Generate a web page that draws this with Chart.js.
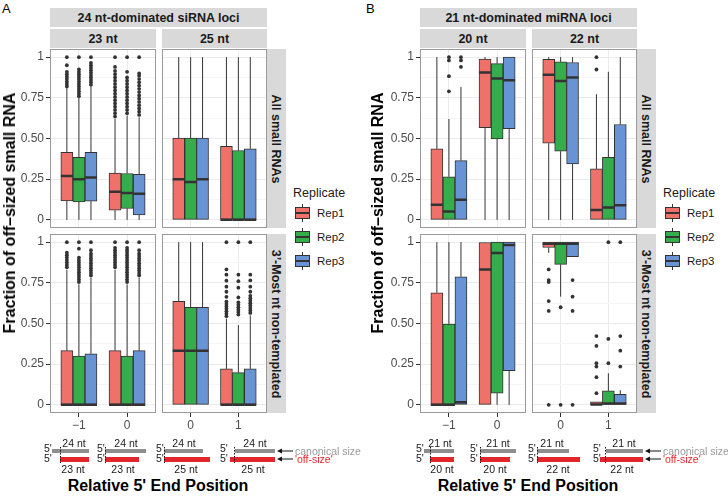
<!DOCTYPE html>
<html lang="en">
<head>
<meta charset="UTF-8">
<title>Fraction of off-sized small RNA</title>
<script src="https://cdn.jsdelivr.net/npm/chart.js@4.4.1/dist/chart.umd.min.js"></script>
<style>
  body { margin: 0; background: #fff; font-family: "Liberation Sans", Arial, sans-serif; }
  #fig { position: relative; width: 728px; height: 499px; overflow: hidden; }
  .strip { position: absolute; background: #D9D9D9; color: #1a1a1a; font-weight: bold; font-size: 12.5px;
           display: flex; align-items: center; justify-content: center; white-space: nowrap; }
  .strip.vert span { transform: rotate(90deg); }
  .txt { position: absolute; white-space: nowrap; color: #000; }
  .ytitle { font-weight: bold; font-size: 16px; transform: translate(-50%, -50%) rotate(-90deg); }
  .xtitle { font-weight: bold; font-size: 16px; transform: translate(-50%, -50%); }
  .tag { font-size: 13px; }
  .ltitle { font-size: 12.5px; color: #1a1a1a; transform: translateY(-50%); }
  .llabel { font-size: 11.5px; color: #1a1a1a; transform: translateY(-50%); }
  .key { position: absolute; width: 17px; height: 20px; }
  .key .wh { position: absolute; left: 8px; top: 1px; width: 1px; height: 18px; background: #333; }
  .key .bx { position: absolute; left: 1px; top: 4px; width: 13px; height: 10px; border: 1px solid #333; }
  .key .md { position: absolute; left: 1px; top: 9px; width: 15px; height: 2px; background: #333; }
  svg { position: absolute; left: 0; top: 0; }
</style>
</head>
<body>
<div id="fig"></div>

<script>
// ---- data: box stats [lower whisker, Q1, median, Q3, upper whisker], per replicate then per position
const REPLICATES = ['Rep1', 'Rep2', 'Rep3'];

const A23_POSITIONS = ['−1', '0'];
const A25_POSITIONS = ['0', '1'];
const B20_POSITIONS = ['−1', '0'];
const B22_POSITIONS = ['0', '1'];

// 24 nt-dominated siRNA loci, 23 nt, all small RNAs
const A23_ALL_BOXES = [
  [[0, 0.117, 0.27, 0.415, 0.81], [0, 0.06, 0.173, 0.288, 0.62]],
  [[0, 0.11, 0.25, 0.385, 0.75], [0, 0.07, 0.165, 0.285, 0.64]],
  [[0, 0.115, 0.26, 0.415, 0.82], [0, 0.03, 0.16, 0.28, 0.63]]
];
const A23_ALL_OUTLIERS = [
  [[0.82, 0.835, 0.85, 0.865, 0.88, 0.895, 0.91, 0.95, 1],
   [0.635, 0.655, 0.675, 0.695, 0.715, 0.735, 0.755, 0.775, 0.795, 0.815, 0.835, 0.855, 0.875, 0.895, 0.915, 0.94, 1]],
  [[0.76, 0.775, 0.79, 0.805, 0.82, 0.835, 0.85, 0.865, 0.88, 0.895, 0.91, 0.925, 1],
   [0.655, 0.675, 0.695, 0.715, 0.735, 0.755, 0.775, 0.795, 0.815, 0.835, 0.855, 0.875, 0.91, 1]],
  [[0.83, 0.845, 0.86, 0.875, 0.89, 0.905, 0.92, 0.935, 0.95, 0.965, 1],
   [0.645, 0.665, 0.685, 0.705, 0.725, 0.745, 0.765, 0.785, 0.805, 0.825, 0.845, 0.865, 0.885, 0.9, 1]]
];

// 24 nt-dominated siRNA loci, 25 nt, all small RNAs
const A25_ALL_BOXES = [
  [[0, 0, 0.25, 0.502, 1], [0, 0, 0, 0.452, 1]],
  [[0, 0, 0.232, 0.502, 1], [0, 0, 0, 0.426, 1]],
  [[0, 0, 0.25, 0.502, 1], [0, 0, 0, 0.436, 1]]
];
const A25_ALL_OUTLIERS = [[[], []], [[], []], [[], []]];

// 24 nt-dominated siRNA loci, 23 nt, 3'-most nt non-templated
const A23_NT3_BOXES = [
  [[0, 0, 0, 0.333, 0.83], [0, 0, 0, 0.333, 0.83]],
  [[0, 0, 0, 0.3, 0.74], [0, 0, 0, 0.3, 0.74]],
  [[0, 0, 0, 0.313, 0.78], [0, 0, 0, 0.333, 0.78]]
];
const A23_NT3_OUTLIERS = [
  [[0.845, 0.86, 0.875, 0.89, 0.905, 0.92, 0.935, 1],
   [0.845, 0.86, 0.875, 0.89, 0.905, 0.92, 0.935, 0.95, 0.965, 1]],
  [[0.755, 0.77, 0.785, 0.8, 0.815, 0.83, 0.845, 0.86, 0.875, 0.89, 0.905, 0.96, 1],
   [0.755, 0.77, 0.785, 0.8, 0.815, 0.83, 0.845, 0.86, 0.875, 0.89, 0.905, 0.92, 0.935, 0.95, 0.965, 1]],
  [[0.795, 0.81, 0.825, 0.84, 0.855, 0.87, 0.885, 0.9, 0.915, 0.93, 0.95, 1],
   [0.795, 0.81, 0.825, 0.84, 0.855, 0.87, 0.885, 0.9, 0.915, 0.93, 0.95, 1]]
];

// 24 nt-dominated siRNA loci, 25 nt, 3'-most nt non-templated
const A25_NT3_BOXES = [
  [[0, 0, 0.333, 0.636, 1], [0, 0, 0, 0.221, 0.53]],
  [[0, 0, 0.333, 0.6, 1], [0, 0, 0, 0.198, 0.49]],
  [[0, 0, 0.333, 0.6, 1], [0, 0, 0, 0.221, 0.55]]
];
const A25_NT3_OUTLIERS = [
  [[], [0.545, 0.56, 0.575, 0.59, 0.605, 0.62, 0.635, 0.664, 0.695, 0.726, 0.763, 0.8, 0.832, 1]],
  [[], [0.555, 0.57, 0.585, 0.6, 0.615, 0.63, 0.66, 0.72, 0.76, 0.8, 1]],
  [[], [0.565, 0.58, 0.595, 0.61, 0.625, 0.64, 0.655, 0.67, 0.695, 0.726, 0.765, 0.8, 1]]
];

// 21 nt-dominated miRNA loci, 20 nt, all small RNAs
const B20_ALL_BOXES = [
  [[0, 0, 0.093, 0.436, 1], [0, 0.566, 0.905, 0.988, 1]],
  [[0, 0, 0.051, 0.265, 0.62], [0, 0.498, 0.868, 0.96, 1]],
  [[0, 0, 0.123, 0.364, 0.817], [0, 0.56, 0.858, 1, 1]]
];
const B20_ALL_OUTLIERS = [
  [[], []],
  [[0.79, 0.883, 0.98, 1], []],
  [[0.94, 0.98, 1], []]
];

// 21 nt-dominated miRNA loci, 22 nt, all small RNAs
const B22_ALL_BOXES = [
  [[0, 0.471, 0.891, 0.986, 1], [0, 0, 0.06, 0.313, 0.772]],
  [[0, 0.422, 0.854, 0.971, 1], [0, 0, 0.076, 0.385, 0.91]],
  [[0, 0.344, 0.875, 0.967, 1], [0, 0, 0.09, 0.586, 1]]
];
const B22_ALL_OUTLIERS = [
  [[], [0.924, 1]],
  [[], []],
  [[], []]
];

// 21 nt-dominated miRNA loci, 20 nt, 3'-most nt non-templated
const B20_NT3_BOXES = [
  [[0, 0, 0, 0.689, 1], [0, 0, 0.832, 0.998, 1]],
  [[0, 0, 0, 0.497, 1], [0, 0.072, 0.934, 1, 1]],
  [[0, 0, 0.016, 0.787, 1], [0, 0.21, 0.983, 1, 1]]
];
const B20_NT3_OUTLIERS = [[[], []], [[], []], [[], []]];

// 21 nt-dominated miRNA loci, 22 nt, 3'-most nt non-templated
const B22_NT3_BOXES = [
  [[0.934, 0.967, 0.99, 1, 1], [0, 0, 0.003, 0.018, 0.018]],
  [[0.665, 0.863, 0.99, 1, 1], [0, 0, 0.008, 0.086, 0.194]],
  [[0.91, 0.91, 0.99, 1, 1], [0, 0, 0.008, 0.065, 0.09]]
];
const B22_NT3_OUTLIERS = [
  [[0, 0.577, 0.638, 0.755, 0.767, 0.832], [0.072, 0.17, 0.235, 0.256, 0.362, 0.423]],
  [[0, 0.6], [0.256, 0.405, 1]],
  [[0, 0.577, 0.665, 0.767], [0.235, 0.333, 0.423, 1]]
];

const Y_GRID = [0, 0.125, 0.25, 0.375, 0.5, 0.625, 0.75, 0.875, 1];
const Y_MAJOR = [0, 0.25, 0.5, 0.75, 1];
const Y_MAJOR_LABELS = ['0', '0.25', '0.50', '0.75', '1'];

// ---- styles / layout
const REP_COLORS = ['#F0716A', '#36AD4B', '#6894D5'];
const INK = '#333333';
const DODGE = 0.25;
const Y_AXIS_W = 50;
const X_AXIS_H = 22;
const FONT = '"Liberation Sans", Arial, sans-serif';

const fig = document.getElementById('fig');
Chart.defaults.font.family = FONT;

const panelBorder = {
  id: 'panelBorder',
  afterDraw(chart) {
    const { ctx, chartArea: a } = chart;
    ctx.save();
    ctx.strokeStyle = '#9a9a9a';
    ctx.lineWidth = 1;
    ctx.strokeRect(a.left + 0.5, a.top + 0.5, a.right - a.left - 1, a.bottom - a.top - 1);
    ctx.restore();
  }
};

function buildDatasets(boxes, outliers) {
  const sets = [];
  boxes.forEach((repBoxes, r) => {
    const off = (r - 1) * DODGE;
    const whisk = [], bars = [], meds = [], pts = [];
    repBoxes.forEach((b, p) => {
      const x = p + 1 + off;
      const [lo, q1, med, q3, hi] = b;
      whisk.push({ x, y: lo }, { x, y: q1 }, { x, y: null }, { x, y: q3 }, { x, y: hi }, { x, y: null });
      bars.push({ x, y: [q1, q3] });
      meds.push({ x: x - DODGE / 2, y: med }, { x: x + DODGE / 2, y: med }, { x, y: null });
      outliers[r][p].forEach(v => pts.push({ x, y: v }));
    });
    sets.push({
      type: 'line', label: REPLICATES[r] + ' whiskers', data: whisk, order: 3,
      borderColor: INK, borderWidth: 1, pointRadius: 0, spanGaps: false
    });
    sets.push({
      type: 'bar', label: REPLICATES[r], data: bars, order: 2,
      backgroundColor: REP_COLORS[r], borderColor: INK, borderWidth: 1, borderSkipped: false,
      grouped: false, categoryPercentage: 1, barPercentage: 1
    });
    sets.push({
      type: 'line', label: REPLICATES[r] + ' median', data: meds, order: 1,
      borderColor: INK, borderWidth: 2.5, borderCapStyle: 'butt', pointRadius: 0, spanGaps: false
    });
    sets.push({
      type: 'scatter', label: REPLICATES[r] + ' outliers', data: pts, order: 0,
      pointRadius: 1.9, pointBackgroundColor: INK, pointBorderWidth: 0, showLine: false
    });
  });
  return sets;
}

function makeFacet(p) {
  const cLeft = p.left - (p.yAxis ? Y_AXIS_W : 0);
  const cW = p.w + (p.yAxis ? Y_AXIS_W : 0);
  const cH = p.h + (p.xAxis ? X_AXIS_H : 0);
  const cv = document.createElement('canvas');
  cv.width = cW; cv.height = cH;
  cv.style.cssText = `position:absolute;left:${cLeft}px;top:${p.top}px;width:${cW}px;height:${cH}px`;
  fig.appendChild(cv);

  const zeroPad = s => { s.paddingTop = 0; s.paddingBottom = 0; s.paddingLeft = 0; s.paddingRight = 0; };

  new Chart(cv, {
    type: 'bar',
    data: { datasets: buildDatasets(p.boxes, p.outliers) },
    plugins: [panelBorder],
    options: {
      responsive: false,
      devicePixelRatio: 1,
      animation: false,
      events: [],
      layout: { padding: 0, autoPadding: false },
      plugins: { legend: { display: false }, tooltip: { enabled: false } },
      scales: {
        x: {
          type: 'linear', min: 0.4, max: 2.6, offset: false,
          afterBuildTicks: s => { s.ticks = p.labels.map((_, i) => ({ value: i + 1 })); },
          afterFit: s => { s.height = p.xAxis ? X_AXIS_H : 0; zeroPad(s); },
          ticks: {
            display: p.xAxis, autoSkip: false, maxRotation: 0, padding: 1, color: '#4D4D4D',
            font: { size: 12 }, callback: (v, i) => p.labels[i]
          },
          grid: { color: '#EBEBEB', offset: false, drawTicks: p.xAxis, tickLength: 4, tickColor: INK },
          border: { display: false }
        },
        y: {
          min: -0.05, max: 1.05,
          afterBuildTicks: s => { s.ticks = Y_GRID.map(v => ({ value: v })); },
          afterFit: s => { s.width = p.yAxis ? Y_AXIS_W : 0; zeroPad(s); },
          ticks: {
            display: p.yAxis, autoSkip: false, padding: 2, color: '#4D4D4D', font: { size: 12 },
            callback: v => { const i = Y_MAJOR.indexOf(v); return i >= 0 ? Y_MAJOR_LABELS[i] : ''; }
          },
          grid: {
            color: c => Y_MAJOR.includes(c.tick.value) ? '#EBEBEB' : '#F6F6F6',
            drawTicks: p.yAxis, tickLength: 4,
            tickColor: c => Y_MAJOR.includes(c.tick.value) ? INK : 'rgba(0,0,0,0)'
          },
          border: { display: false }
        }
      }
    }
  });
}

const ROW_TOP = [49, 234];
const ROW_H = 179;
const FACETS = [
  { left: 50,  w: 106, row: 0, yAxis: true,  xAxis: false, labels: A23_POSITIONS, boxes: A23_ALL_BOXES, outliers: A23_ALL_OUTLIERS },
  { left: 162, w: 105, row: 0, yAxis: false, xAxis: false, labels: A25_POSITIONS, boxes: A25_ALL_BOXES, outliers: A25_ALL_OUTLIERS },
  { left: 50,  w: 106, row: 1, yAxis: true,  xAxis: true,  labels: A23_POSITIONS, boxes: A23_NT3_BOXES, outliers: A23_NT3_OUTLIERS },
  { left: 162, w: 105, row: 1, yAxis: false, xAxis: true,  labels: A25_POSITIONS, boxes: A25_NT3_BOXES, outliers: A25_NT3_OUTLIERS },
  { left: 420, w: 106, row: 0, yAxis: true,  xAxis: false, labels: B20_POSITIONS, boxes: B20_ALL_BOXES, outliers: B20_ALL_OUTLIERS },
  { left: 532, w: 105, row: 0, yAxis: false, xAxis: false, labels: B22_POSITIONS, boxes: B22_ALL_BOXES, outliers: B22_ALL_OUTLIERS },
  { left: 420, w: 106, row: 1, yAxis: true,  xAxis: true,  labels: B20_POSITIONS, boxes: B20_NT3_BOXES, outliers: B20_NT3_OUTLIERS },
  { left: 532, w: 105, row: 1, yAxis: false, xAxis: true,  labels: B22_POSITIONS, boxes: B22_NT3_BOXES, outliers: B22_NT3_OUTLIERS }
];
FACETS.forEach(f => makeFacet(Object.assign({ top: ROW_TOP[f.row], h: ROW_H }, f)));

// ---- strips, titles, legends
function addStrip(text, left, top, w, h, vert) {
  const d = document.createElement('div');
  d.className = 'strip' + (vert ? ' vert' : '');
  d.style.cssText = `left:${left}px;top:${top}px;width:${w}px;height:${h}px`;
  const s = document.createElement('span');
  s.textContent = text;
  d.appendChild(s);
  fig.appendChild(d);
}
function addText(text, cls, x, y) {
  const d = document.createElement('div');
  d.className = 'txt ' + cls;
  d.style.left = x + 'px';
  d.style.top = y + 'px';
  d.textContent = text;
  fig.appendChild(d);
}

const GROUPS = [
  { tag: 'A', tagX: 2, title: '24 nt-dominated siRNA loci', left: 50, facets: ['23 nt', '25 nt'], ytX: 10, xtX: 158, legX: 293 },
  { tag: 'B', tagX: 366, title: '21 nt-dominated miRNA loci', left: 420, facets: ['20 nt', '22 nt'], ytX: 378, xtX: 528, legX: 663 }
];
const ROW_STRIPS = ['All small RNAs', '3’-Most nt non-templated'];

GROUPS.forEach(g => {
  addText(g.tag, 'tag', g.tagX, 1);
  addStrip(g.title, g.left, 8, 217, 19, false);
  addStrip(g.facets[0], g.left, 29, 106, 19, false);
  addStrip(g.facets[1], g.left + 112, 29, 105, 19, false);
  ROW_STRIPS.forEach((t, i) => addStrip(t, g.left + 217, ROW_TOP[i], 19, ROW_H, true));
  addText('Fraction of off–sized small RNA', 'ytitle', g.ytX, 213);
  addText('Relative 5\' End Position', 'xtitle', g.xtX, 486);

  addText('Replicate', 'ltitle', g.legX, 193);
  REPLICATES.forEach((r, i) => {
    const cy = 213 + i * 24;
    const k = document.createElement('div');
    k.className = 'key';
    k.style.left = (g.legX + 1) + 'px';
    k.style.top = (cy - 10) + 'px';
    k.innerHTML = `<div class="wh"></div><div class="bx" style="background:${REP_COLORS[i]}"></div><div class="md"></div>`;
    fig.appendChild(k);
    addText(r, 'llabel', g.legX + 24, cy);
  });
});

// ---- read-length schematics under the x axes
const SCHEMES = [
  { five: 44,  grey: [52, 89],   red: [60, 89],   dash: 60,  top: ['24 nt', 74],  bottom: ['23 nt', 73] },
  { five: 97,  grey: [105, 146], red: [105, 139], dash: 105, top: ['24 nt', 126], bottom: ['23 nt', 123] },
  { five: 156, grey: [164, 203], red: [164, 210], dash: 164, top: ['24 nt', 184], bottom: ['25 nt', 186] },
  { five: 220, grey: [235, 275], red: [230, 275], dash: 234, top: ['24 nt', 255], bottom: ['25 nt', 253] },
  { five: 416, grey: [424, 454], red: [430, 454], dash: 430, top: ['21 nt', 440], bottom: ['20 nt', 442] },
  { five: 470, grey: [480, 516], red: [480, 510], dash: 480, top: ['21 nt', 498], bottom: ['20 nt', 495] },
  { five: 528, grey: [537, 569], red: [537, 580], dash: 537, top: ['21 nt', 552], bottom: ['22 nt', 558] },
  { five: 593, grey: [606, 643], red: [600, 643], dash: 605, top: ['21 nt', 624], bottom: ['22 nt', 622] }
];
const ARROWS = [{ x1: 277, x2: 293 }, { x1: 645, x2: 661 }];

let svg = '<svg width="728" height="499" xmlns="http://www.w3.org/2000/svg" font-family=\'"Liberation Sans", Arial, sans-serif\' font-size="10.5">';
SCHEMES.forEach(s => {
  svg += `<rect x="${s.grey[0]}" y="449" width="${s.grey[1] - s.grey[0]}" height="4" fill="#8E8E8E"/>`;
  svg += `<rect x="${s.red[0]}" y="457" width="${s.red[1] - s.red[0]}" height="5" fill="#E3262B"/>`;
  svg += `<line x1="${s.dash + 0.5}" y1="447" x2="${s.dash + 0.5}" y2="463" stroke="#111" stroke-width="1" stroke-dasharray="1.5,1.5"/>`;
  svg += `<text x="${s.five}" y="452" fill="#1a1a1a">5'</text>`;
  svg += `<text x="${s.five}" y="462" fill="#1a1a1a">5'</text>`;
  svg += `<text x="${s.top[1]}" y="447" text-anchor="middle" fill="#1a1a1a">${s.top[0]}</text>`;
  svg += `<text x="${s.bottom[1]}" y="473" text-anchor="middle" fill="#1a1a1a">${s.bottom[0]}</text>`;
});
ARROWS.forEach(a => {
  [451, 459].forEach(y => {
    svg += `<line x1="${a.x1 + 4}" y1="${y}" x2="${a.x2}" y2="${y}" stroke="#111" stroke-width="1"/>`;
    svg += `<polygon points="${a.x1},${y} ${a.x1 + 5},${y - 2.5} ${a.x1 + 5},${y + 2.5}" fill="#111"/>`;
  });
  svg += `<text x="${a.x2 + 2}" y="455" font-size="10.5" fill="#9A9A9A">canonical size</text>`;
  svg += `<text x="${a.x2 + 2}" y="463" font-size="10.5" fill="#E3262B">'off-size'</text>`;
});
svg += '</svg>';
fig.insertAdjacentHTML('beforeend', svg);
</script>
</body>
</html>
